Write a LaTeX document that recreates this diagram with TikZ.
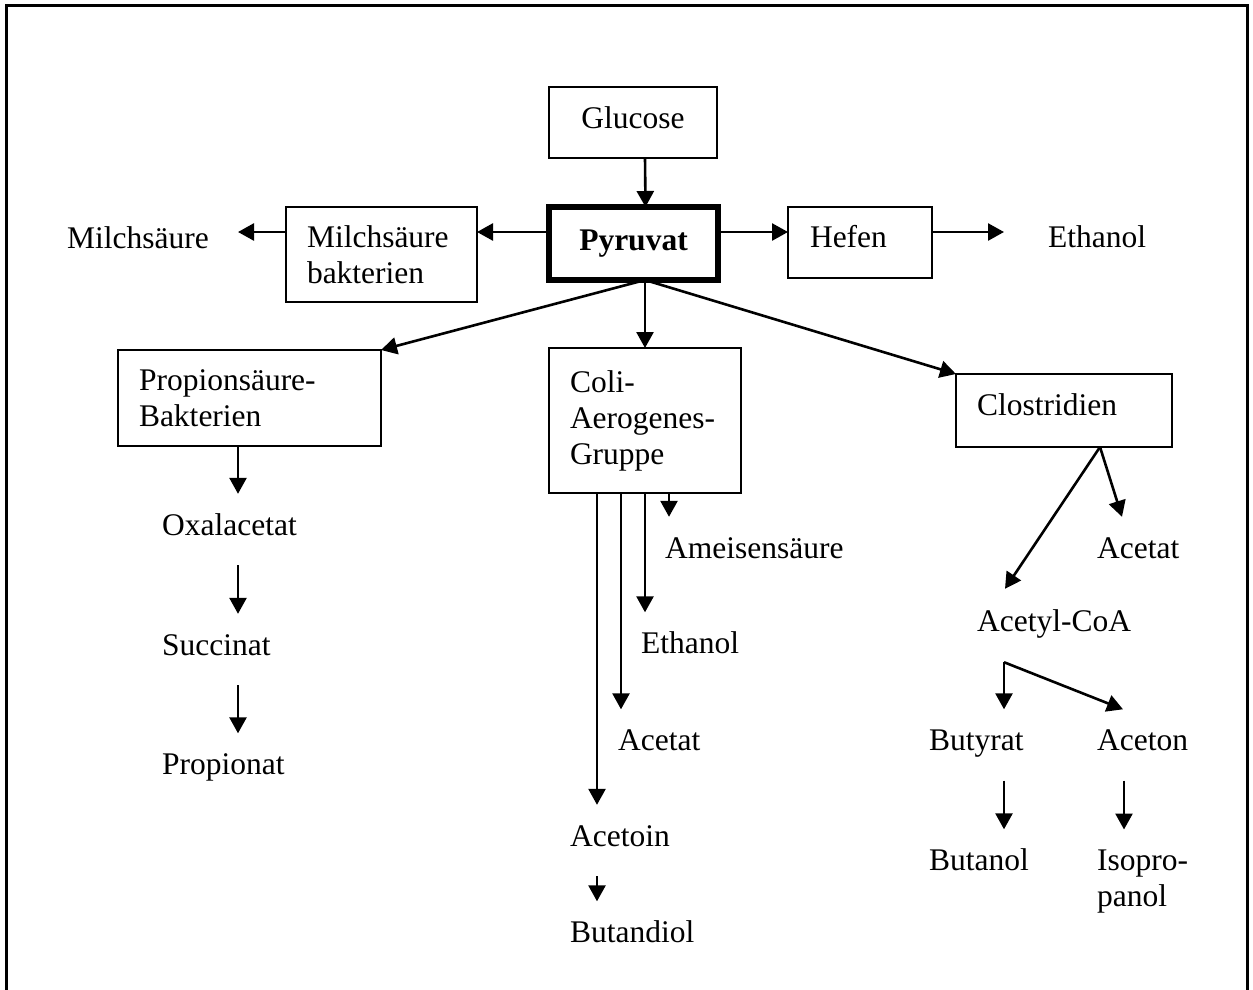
\documentclass[tikz,border=0pt]{standalone}
\usepackage{fontspec}
\setmainfont{Liberation Serif}
\usetikzlibrary{arrows.meta,calc}
\hyphenpenalty=10000
\exhyphenpenalty=10000
\begin{document}
\begin{tikzpicture}[x=1pt,y=-1pt,
  font=\fontsize{31.5}{36}\selectfont,
  box/.style={draw, line width=2.2pt, outer sep=0pt, inner ysep=0pt},
  leftbox/.style={box, align=left, inner xsep=21pt, text width=#1},
  term/.style={inner sep=0pt, text height=21pt, text depth=0pt, anchor=west},
  arr/.style={line width=2.6pt, -{Triangle[length=16pt,width=17pt]}},
  stepar/.style={arr, shorten <=30pt, shorten >=20pt},
]
\useasboundingbox (0,0) rectangle (1253,989);
% frame (open at the bottom)
\draw[line width=3pt] (6,1000) -- (6,5) -- (1247,5) -- (1247,1000);

% boxes
\node[box, minimum width=168pt, minimum height=71pt, text height=21pt, text depth=10pt] (glucose) at (633,122.5) {Glucose};
\node[box, line width=5.5pt, minimum width=169pt, minimum height=73pt, text height=21pt, text depth=8pt,
      font=\fontsize{31.5}{36}\selectfont\bfseries] (pyruvat) at (633.5,243.5) {Pyruvat};
\node[leftbox=149pt, minimum height=95pt] (milchbak) at (381.5,254.5) {Milchsäure\\bakterien};
\node[box, align=left, inner xsep=22pt, text width=100pt, minimum height=71pt, text height=21pt, text depth=12pt] (hefen) at (860,242.5) {Hefen};
\node[leftbox=221pt, minimum height=96pt] (propio) at (249.5,398) {Propionsäure-\\Bakterien};
\node[leftbox=150pt, minimum height=145pt] (coli) at (645,420.5) {Coli-\\Aerogenes-\\Gruppe};
\node[box, align=left, inner xsep=21pt, text width=174pt, minimum height=73pt, text height=21pt, text depth=12pt] (clos) at (1064,410.5) {Clostridien};

% products
\node[term] (milch) at (67,237.5) {Milchsäure};
\node[term] (eth1) at (1048,237) {Ethanol};
\node[term] (oxal) at (162,524.5) {Oxalacetat};
\node[term] (succ) at (162,644.5) {Succinat};
\node[term] (propionat) at (162,764) {Propionat};
\node[term] (ameisen) at (665,547.5) {Ameisensäure};
\node[term] (eth2) at (641,643) {Ethanol};
\node[term] (acetat1) at (618,740) {Acetat};
\node[term] (acetoin) at (570,835.5) {Acetoin};
\node[term] (butandiol) at (570,932) {Butandiol};
\node[term] (acetat2) at (1097,547.5) {Acetat};
\node[term] (acetyl) at (977,620.5) {Acetyl-CoA};
\node[term] (butyrat) at (929,740) {Butyrat};
\node[term] (aceton) at (1097,740) {Aceton};
\node[term] (butanol) at (929,860) {Butanol};
\node[inner sep=0pt, align=left, anchor=north west] (isoprop) at (1097,849.5) {Isopro-\\panol};

% top row
\coordinate (lvl) at (0,232);
\draw[arr] ([xshift=12pt]glucose.south) -- ([xshift=12pt]pyruvat.north);
\draw[arr] (pyruvat.east |- lvl) -- (hefen.west |- lvl);
\draw[arr] (hefen.east |- lvl) -- ++(72,0);
\draw[arr] (pyruvat.west |- lvl) -- (milchbak.east |- lvl);
\draw[arr] (milchbak.west |- lvl) -- ++(-48,0);

% branches from pyruvate
\coordinate (pyfoot) at ([xshift=11.5pt]pyruvat.south);
\draw[arr] (pyfoot) -- (propio.north east);
\draw[arr] (pyfoot) -- (coli.north -| pyfoot);
\draw[arr] (pyfoot) -- (clos.north west);

% propionic acid bacteria
\coordinate (px) at ([xshift=-11.5pt]propio.south);
\draw[arr, shorten >=20pt] (px) -- (px |- oxal.north);
\draw[stepar] (oxal.south -| px) -- (succ.north -| px);
\draw[stepar] (succ.south -| px) -- (propionat.north -| px);

% coli-aerogenes group
\coordinate (c1) at ([xshift=-48pt]coli.south);
\coordinate (c2) at ([xshift=-24pt]coli.south);
\coordinate (c3) at (coli.south);
\coordinate (c4) at ([xshift=24pt]coli.south);
\draw[arr, shorten >=20pt] (c1) -- (c1 |- acetoin.north);
\draw[arr, shorten >=20pt] (c2) -- (c2 |- acetat1.north);
\draw[arr, shorten >=20pt] (c3) -- (c3 |- eth2.north);
\draw[arr, shorten >=20pt] (c4) -- (c4 |- ameisen.north);
\draw[stepar] (acetoin.south -| c1) -- (butandiol.north -| c1);

% clostridia
\coordinate (clfoot) at ([xshift=36pt]clos.south);
\draw[arr] (clfoot) -- ($(acetyl.north west)+(28,-21)$);
\draw[arr] (clfoot) -- ($(acetat2.north west)+(25,-20)$);
\coordinate (acfork) at ($(acetyl.south west)+(27,31)$);
\draw[arr, shorten >=20pt] (acfork) -- (acfork |- butyrat.north);
\draw[arr] (acfork) -- ($(aceton.north west)+(26,-20)$);
\draw[stepar] (butyrat.south -| acfork) -- (butanol.north -| acfork);
\coordinate (ax) at ($(aceton.west)+(27,0)$);
\draw[stepar] (aceton.south -| ax) -- (isoprop.north -| ax);
\end{tikzpicture}
\end{document}
